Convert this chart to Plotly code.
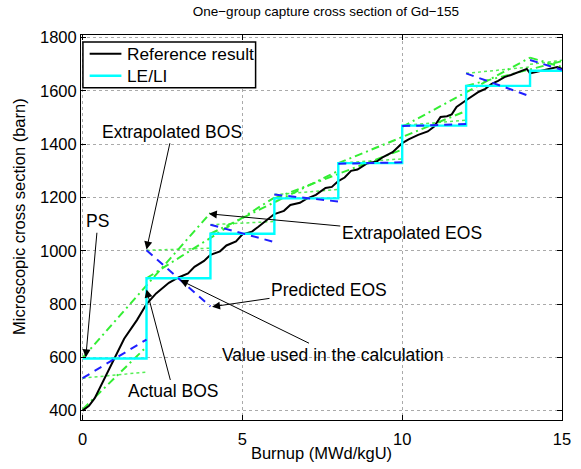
import plotly.graph_objects as go

# Reference result (black)
ref_x = [0, 0.2, 0.38, 0.68, 1.0, 1.3, 1.7, 2.0, 2.3, 2.7, 3.0, 3.3, 3.5, 3.8, 4.0, 4.3, 4.5, 4.8,
         5.0, 5.3, 5.5, 5.8, 6.0, 6.3, 6.5, 6.8, 7.0, 7.3, 7.6, 7.8, 8.0, 8.2, 8.4, 8.6, 8.9, 9.2,
         9.4, 9.7, 10.0, 10.2, 10.5, 10.8, 11.0, 11.2, 11.4, 11.55, 11.7, 12.0, 12.2, 12.4, 12.6,
         12.8, 13.0, 13.2, 13.4, 13.6, 13.9, 14.0, 14.2, 14.4, 14.6, 14.85, 15]
ref_y = [400, 418, 447, 521, 600, 670, 740, 800, 840, 880, 900, 915, 940, 962, 985, 998, 1020, 1035,
         1062, 1072, 1090, 1118, 1138, 1150, 1172, 1180, 1195, 1210, 1236, 1240, 1262, 1275, 1300, 1305,
         1328, 1335, 1352, 1370, 1404, 1418, 1435, 1448, 1466, 1502, 1505, 1512, 1540, 1565, 1580, 1597,
         1608, 1627, 1638, 1652, 1660, 1670, 1683, 1666, 1672, 1678, 1682, 1690, 1683]

# LE/LI step values (cyan)
step_t = [0, 2, 4, 6, 8, 10, 12, 14, 15]
step_v = [596, 897, 1064, 1197, 1329, 1470, 1619, 1676]

# Blue dashed segments: (t0, v0, t1, v1)
blue_segs = [(0, 522, 2, 667), (2, 1002, 4, 791), (4, 1098, 6, 1033), (6, 1211, 8, 1185),
             (8, 1327, 10, 1332), (10, 1468, 12, 1476), (12, 1666, 14, 1580), (14, 1716, 15, 1679)]

# Green dash-dot segments
green_dd = [(0, 598, 4, 1142), (0, 405, 2, 640), (2, 897, 6, 1200), (4, 1064, 8, 1300),
            (6, 1197, 10, 1380), (8, 1329, 12, 1525), (10, 1465, 14, 1725), (14, 1725, 15, 1690),
            (12, 1619, 15, 1712)]
# Green dotted segments
green_dot = [(0, 522, 2, 545), (2, 1002, 4, 1010), (4, 1098, 6, 1110), (6, 1211, 8, 1230),
             (8, 1329, 10, 1345), (10, 1470, 12, 1490), (12, 1666, 14, 1690), (14, 1700, 15, 1715)]

legend_names = ["Reference result", "LE/LI"]


def seg_xy(segs):
    xs, ys = [], []
    for t0, v0, t1, v1 in segs:
        xs += [t0, t1, None]
        ys += [v0, v1, None]
    return xs, ys


sx, sy = [], []
for i, v in enumerate(step_v):
    sx += [step_t[i], step_t[i + 1]]
    sy += [v, v]

fig = go.Figure()
gx, gy = seg_xy(green_dot)
fig.add_trace(go.Scatter(x=gx, y=gy, mode="lines", line=dict(color="#55ee55", width=1.5, dash="dot"),
                         showlegend=False, hoverinfo="skip"))
gx, gy = seg_xy(green_dd)
fig.add_trace(go.Scatter(x=gx, y=gy, mode="lines", line=dict(color="#33ee33", width=2, dash="8px,4px,2px,4px"),
                         showlegend=False, hoverinfo="skip"))
fig.add_trace(go.Scatter(x=ref_x, y=ref_y, mode="lines", line=dict(color="black", width=2),
                         name=legend_names[0], showlegend=False))
fig.add_trace(go.Scatter(x=sx, y=sy, mode="lines", line=dict(color="cyan", width=2.4),
                         name=legend_names[1], showlegend=False))
bx, by = seg_xy(blue_segs)
fig.add_trace(go.Scatter(x=bx, y=by, mode="lines", line=dict(color="#1f1fff", width=2, dash="8px,6px"),
                         showlegend=False, hoverinfo="skip"))

font = "Liberation Sans, Arial, sans-serif"
ann = [
    ("PS", 0.48, 1111, 0.1, 600),
    ("Extrapolated BOS", 2.81, 1447, 2.0, 1005),
    ("Extrapolated EOS", 10.3, 1068, 3.95, 1139),
    ("Predicted EOS", 7.71, 854, 4.05, 790),
    ("Value used in the calculation", 7.82, 610, 3.05, 890),
    ("Actual BOS", 2.84, 472, 2.0, 855),
]
for text, tx, ty, hx, hy in ann:
    fig.add_annotation(x=hx, y=hy, ax=tx, ay=ty, xref="x", yref="y", axref="x", ayref="y",
                       text=text, showarrow=True, arrowhead=2, arrowsize=1.6, arrowwidth=1,
                       arrowcolor="black", font=dict(family=font, size=17.5, color="black"),
                       bgcolor="rgba(0,0,0,0)")

# manual legend (paper coordinates of plot area)
fig.add_shape(type="rect", xref="paper", yref="paper", x0=0.004, x1=0.363, y0=0.863, y1=0.982,
              fillcolor="white", line=dict(color="black", width=1.5), layer="above")
fig.add_shape(type="line", xref="paper", yref="paper", x0=0.018, x1=0.084, y0=0.951, y1=0.951,
              line=dict(color="black", width=2), layer="above")
fig.add_shape(type="line", xref="paper", yref="paper", x0=0.018, x1=0.084, y0=0.894, y1=0.894,
              line=dict(color="cyan", width=2.4), layer="above")
for name, yy in zip(legend_names, [0.951, 0.894]):
    fig.add_annotation(x=0.092, y=yy, xref="paper", yref="paper", text=name, showarrow=False,
                       xanchor="left", yanchor="middle", font=dict(family=font, size=17.3, color="black"))

# y-axis title as rotated text
fig.add_annotation(x=-0.129, y=0.53, xref="paper", yref="paper", text="Microscopic cross section (barn)",
                   showarrow=False, textangle=-90, xanchor="center", yanchor="middle",
                   font=dict(family=font, size=16.5, color="black"))

fig.update_layout(
    width=581, height=469,
    margin=dict(l=81, r=10, t=35, b=47),
    paper_bgcolor="white", plot_bgcolor="white",
    font=dict(family=font, size=16, color="black"),
    title=dict(text="One\u2212group capture cross section of Gd\u2212155", x=0.561, xanchor="center",
               y=0.986, yanchor="top", font=dict(size=13.5)),
    showlegend=False,
)
fig.update_xaxes(range=[-0.05, 15], tickvals=[0, 5, 10, 15], showgrid=True, gridcolor="#aaaaaa",
                 griddash="dot", gridwidth=1, showline=True, linecolor="black", linewidth=1, mirror="ticks",
                 ticks="inside", ticklen=5, tickcolor="black", zeroline=False, ticklabelstandoff=4,
                 tickfont=dict(size=16.5),
                 title=dict(text="Burnup (MWd/kgU)", standoff=0, font=dict(size=16.5)))
fig.update_yaxes(range=[365, 1810], tickvals=[400, 600, 800, 1000, 1200, 1400, 1600, 1800], showgrid=True,
                 gridcolor="#aaaaaa", griddash="dot", gridwidth=1, showline=True, linecolor="black", linewidth=1,
                 mirror="ticks", ticks="inside", ticklen=5, tickcolor="black", zeroline=False,
                 tickfont=dict(size=16.5))
fig.write_html("out.html")
